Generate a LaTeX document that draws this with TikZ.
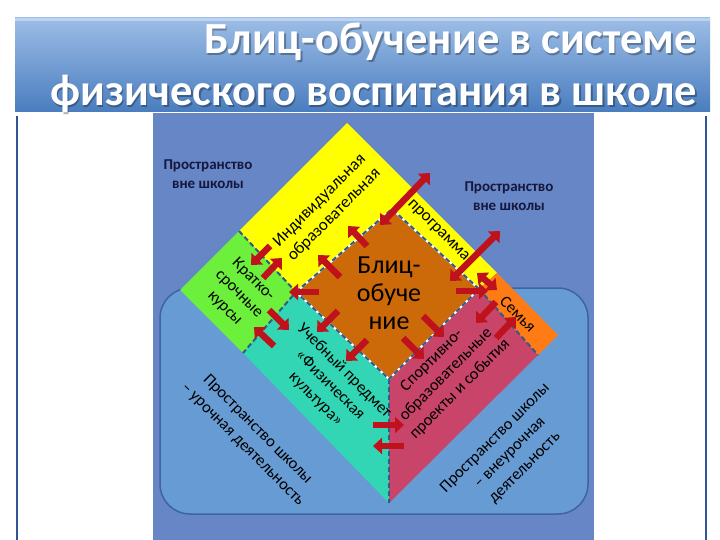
\documentclass[tikz,border=0pt]{standalone}
\usepackage{fontspec}
\setmainfont{Carlito}
\usetikzlibrary{arrows.meta}
\definecolor{bandtop}{HTML}{9CBDE6}
\definecolor{bandbot}{HTML}{4A7DBF}
\definecolor{denim}{HTML}{6686C6}
\definecolor{skyfill}{HTML}{679BD3}
\definecolor{skyline}{HTML}{3D64A8}
\definecolor{yel}{HTML}{FFFF00}
\definecolor{grn}{HTML}{6CF03C}
\definecolor{org}{HTML}{CC6A0A}
\definecolor{tealc}{HTML}{33D6B4}
\definecolor{pnk}{HTML}{C84468}
\definecolor{fam}{HTML}{FF7B16}
\definecolor{arrred}{HTML}{C0121C}
\definecolor{dashblue}{HTML}{2E5C8A}
\definecolor{navytext}{HTML}{15173D}
\definecolor{edgeblue}{HTML}{2F5597}
\begin{document}
\begin{tikzpicture}[x=1pt,y=-1pt,
  redarrow/.style={draw=arrred, line width=6.5pt, -{Triangle[length=9pt,width=16pt]}},
  dblarrow/.style={draw=arrred, line width=6.5pt, {Triangle[length=9pt,width=16pt]}-{Triangle[length=9pt,width=16pt]}},
  bluedash/.style={draw=dashblue, line width=2pt, dash pattern=on 5pt off 3pt},
  lbl/.style={font=\fontsize{16.5}{20}\selectfont, align=center, text=black, inner sep=0pt},
  outer/.style={font=\bfseries\fontsize{15}{19}\selectfont, align=center, text=navytext, inner sep=0pt},
  titletxt/.style={font=\bfseries\fontsize{44.5}{50}\selectfont, anchor=base east, inner sep=0pt}
]
\useasboundingbox (0,0) rectangle (720,540);
\fill[white] (0,0) rectangle (720,540);
% title band
\shade[top color=bandtop, bottom color=bandbot] (15,18) rectangle (710,112);
\fill[white, opacity=0.35] (15,18) rectangle (710,21);
\node[titletxt, text=black, opacity=0.3] (t1s) at (698.5,55.5) {Блиц-обучение в системе};
\node[titletxt, text=black, opacity=0.3] (t2s) at (698.5,107.5) {физического воспитания в школе};
\node[titletxt, text=white] (t1) at (697,54) {Блиц-обучение в системе};
\node[titletxt, text=white] (t2) at (697,106) {физического воспитания в школе};
% side lines
\draw[edgeblue, line width=2.5pt] (17,116) -- (17,540);
\draw[edgeblue, line width=2.5pt] (706,116) -- (706,540);
% textured background
\fill[denim] (153,113) rectangle (594,540);
% rounded school area
\draw[fill=skyfill, draw=skyline, line width=1.5pt, rounded corners=30pt] (160,288) rectangle (588,514);
% key points
\coordinate (T) at (347,123);
\coordinate (L) at (180,290);
\coordinate (B) at (389,503);
\coordinate (R) at (558,335);
\coordinate (G1) at (239,231);
\coordinate (G3) at (243,353);
\coordinate (OL) at (296,292);
\coordinate (OT) at (392,209);
\coordinate (OR) at (479,289);
\coordinate (OB) at (389,379);
\coordinate (S2) at (497,273);
\coordinate (S4) at (538,355);
% regions
\fill[yel] (T) -- (S2) -- (OR) -- (OT) -- (OL) -- (G1) -- cycle;
\fill[grn] (L) -- (G1) -- (OL) -- (G3) -- cycle;
\fill[tealc] (G3) -- (OL) -- (OB) -- (B) -- cycle;
\fill[pnk] (OR) -- (S4) -- (B) -- (OB) -- cycle;
\fill[fam] (OR) -- (S2) -- (R) -- (S4) -- cycle;
\fill[org] (OL) -- (OT) -- (OR) -- (OB) -- cycle;
% boundaries
\draw[bluedash] (G1) -- (OL) -- (G3);
\draw[bluedash] (OB) -- (B);
\draw[bluedash] (OR) -- (S4);
\draw[white, line width=2pt] (OL) -- (OT) -- (OR) -- (OB) -- cycle;
\draw[bluedash] (OL) -- (OT) -- (OR) -- (OB) -- cycle;
% arrow end points
\coordinate (a1s) at (380,225); \coordinate (a1e) at (430,173);
\coordinate (a2s) at (450,281); \coordinate (a2e) at (500,231);
\coordinate (a3s) at (477,273); \coordinate (a3e) at (497,290);
\coordinate (y1s) at (367,246); \coordinate (y1e) at (348,226);
\coordinate (y2s) at (340,277); \coordinate (y2e) at (318,255);
\coordinate (h1s) at (319,292); \coordinate (h1e) at (289,292);
\coordinate (g1s) at (270,246); \coordinate (g1e) at (251,265);
\coordinate (g2s) at (263,278); \coordinate (g2e) at (282,258);
\coordinate (c1s) at (338,311); \coordinate (c1e) at (317,332);
\coordinate (c2s) at (367,340); \coordinate (c2e) at (346,361);
\coordinate (k1s) at (269,310); \coordinate (k1e) at (289,330);
\coordinate (k2s) at (274,346); \coordinate (k2e) at (254,327);
\coordinate (p1s) at (423,316); \coordinate (p1e) at (444,337);
\coordinate (p2s) at (403,338); \coordinate (p2e) at (424,359);
\coordinate (h2s) at (456,291); \coordinate (h2e) at (488,291);
\coordinate (f1s) at (496,302); \coordinate (f1e) at (476,323);
\coordinate (f2s) at (496,338); \coordinate (f2e) at (516,317);
\coordinate (v1s) at (373,425); \coordinate (v1e) at (404,425);
\coordinate (v2s) at (404,446); \coordinate (v2e) at (373,446);
% arrows
\draw[dblarrow] (a1s) -- (a1e);
\draw[dblarrow] (a2s) -- (a2e);
\draw[dblarrow] (a3s) -- (a3e);
\draw[redarrow] (y1s) -- (y1e);
\draw[redarrow] (y2s) -- (y2e);
\draw[redarrow] (h1s) -- (h1e);
\draw[redarrow] (g1s) -- (g1e);
\draw[redarrow] (g2s) -- (g2e);
\draw[redarrow] (c1s) -- (c1e);
\draw[redarrow] (c2s) -- (c2e);
\draw[redarrow] (k1s) -- (k1e);
\draw[redarrow] (k2s) -- (k2e);
\draw[redarrow] (p1s) -- (p1e);
\draw[redarrow] (p2s) -- (p2e);
\draw[redarrow] (h2s) -- (h2e);
\draw[redarrow] (f1s) -- (f1e);
\draw[redarrow] (f2s) -- (f2e);
\draw[redarrow] (v1s) -- (v1e);
\draw[redarrow] (v2s) -- (v2e);
% texts
\node[outer] (out1) at (208,174) {Пространство\\вне школы};
\node[outer] (out2) at (509,196) {Пространство\\вне школы};
\node[lbl, rotate=45, font=\fontsize{17}{20.5}\selectfont] (ind) at (327,208) {Индивидуальная\\образовательная};
\node[lbl, rotate=-45, font=\fontsize{17}{20.5}\selectfont] (prog) at (438,231) {программа};
\node[lbl, rotate=-45] (kurs) at (239,294) {Кратко-\\срочные\\курсы};
\node[lbl, font=\fontsize{26}{28}\selectfont] (blitz) at (389,293) {Блиц-\\обуче\\ние};
\node[lbl, rotate=-45] (uch) at (330,385) {Учебный предмет\\«Физическая\\культура»};
\node[lbl, rotate=45] (sport) at (446,375) {Спортивно-\\образовательные\\проекты и события};
\node[lbl, rotate=-45] (sem) at (518,314) {Семья};
\node[lbl, rotate=-45, font=\fontsize{16.5}{21}\selectfont] (urok) at (250,437) {Пространство школы\\– урочная деятельность};
\node[lbl, rotate=45, font=\fontsize{16.5}{21}\selectfont] (vneur) at (510,453) {Пространство школы\\– внеурочная\\деятельность};
\end{tikzpicture}
\end{document}
